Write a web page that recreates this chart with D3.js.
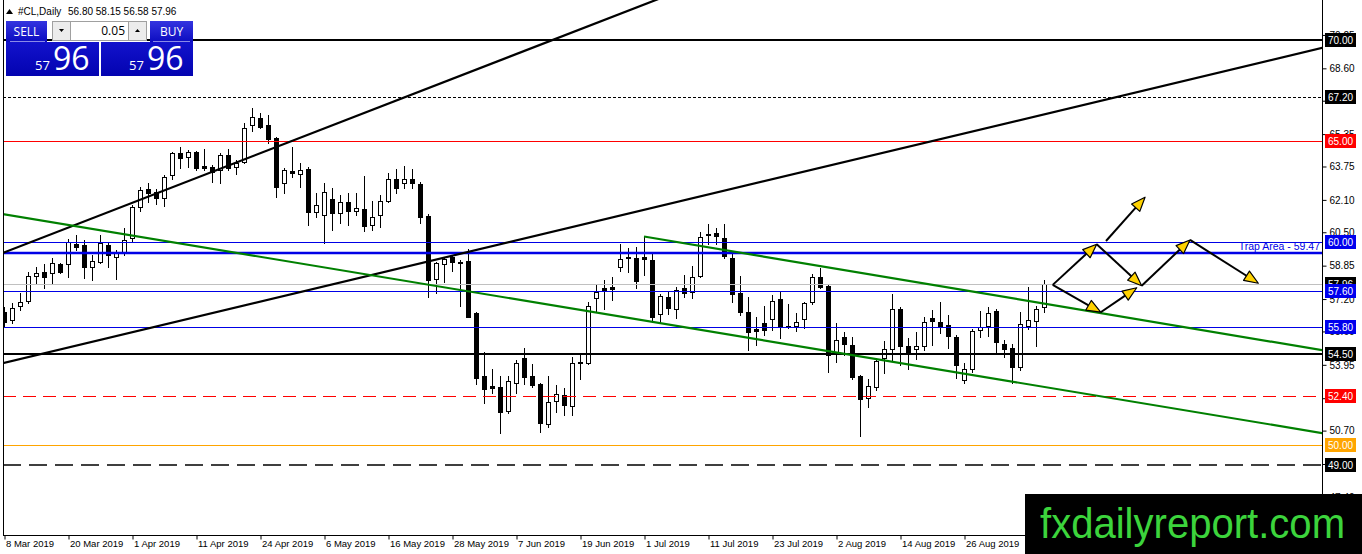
<!DOCTYPE html>
<html>
<head>
<meta charset="utf-8">
<script src="https://cdn.jsdelivr.net/npm/d3@7"></script>
<style>
  body { margin: 0; background: #fff; }
  svg { display: block; font-family: "Liberation Sans", Arial, sans-serif; }
</style>
</head>
<body>
<div id="chart"></div>
<script>
// daily bars, 8 Mar 2019 .. early Sep 2019
const opens = [56.55,56.17,56.86,57.12,58.36,58.52,58.47,58.92,58.92,59.92,59.86,58.80,59.05,59.86,59.26,59.46,60.20,61.76,62.62,62.48,
  62.18,63.33,64.43,64.20,64.45,63.77,63.74,63.58,64.32,63.71,63.99,65.80,66.13,65.80,65.14,62.92,63.54,63.38,63.63,61.52,
  61.35,62.14,61.44,61.98,61.57,61.63,60.86,61.35,62.06,63.12,62.92,63.12,62.89,61.30,58.19,58.92,59.26,59.02,59.08,56.50,
  53.40,52.90,52.87,51.69,53.07,54.27,53.40,53.00,51.03,52.18,52.46,51.92,54.06,54.06,57.24,57.73,57.78,58.80,59.21,59.21,
  59.26,59.13,56.45,57.32,56.69,57.73,57.53,58.34,60.37,60.45,60.20,59.24,57.49,56.55,55.72,56.00,56.20,57.19,55.84,55.89,
  56.20,57.04,58.28,57.85,54.57,55.34,54.93,53.40,52.30,52.84,54.27,54.72,56.69,54.88,54.72,54.88,56.25,56.05,55.92,55.31,
  53.20,53.73,55.67,55.87,56.61,54.98,54.77,53.86,55.87,56.13,56.80];
const highs = [56.80,56.99,57.49,58.55,58.80,58.93,59.21,58.97,60.15,60.37,60.12,59.38,60.37,59.96,59.62,60.70,61.85,62.75,62.95,62.62,
  63.35,64.48,64.73,64.57,64.50,64.60,63.82,64.40,64.60,64.07,65.88,66.63,66.38,66.29,65.22,63.66,64.70,63.91,63.70,62.43,
  62.92,62.67,62.34,62.43,62.46,63.28,62.06,62.34,63.44,63.61,63.77,63.61,63.00,61.40,59.05,59.30,59.38,59.12,59.66,56.58,
  54.60,53.73,53.40,53.40,54.19,54.80,53.99,53.05,53.40,52.95,52.79,54.35,54.44,57.07,57.90,58.14,58.31,59.92,59.71,59.76,
  60.28,59.46,57.45,57.57,57.82,58.39,58.85,60.53,60.89,60.70,60.89,59.54,58.34,57.32,56.30,56.87,57.40,57.57,56.94,56.50,
  57.04,58.42,58.72,57.93,56.00,55.56,55.34,53.45,53.24,54.27,55.14,57.45,56.82,55.26,55.59,56.33,56.66,57.07,56.41,55.43,
  54.03,55.71,56.63,56.79,56.69,55.18,54.98,56.58,57.78,56.86,58.15];
const lows = [55.85,56.00,56.66,56.99,57.94,57.73,58.01,58.50,58.28,59.62,58.23,58.14,59.00,58.77,58.18,59.38,60.08,61.57,62.01,61.90,
  61.80,63.12,63.66,63.74,63.58,63.58,63.00,62.95,63.58,63.38,63.94,65.52,65.64,64.90,62.26,62.43,63.25,62.72,60.86,61.27,
  59.96,60.61,60.94,60.86,61.35,60.58,60.61,60.78,62.01,62.43,62.67,62.67,60.97,57.32,57.49,58.06,58.60,56.84,56.30,53.00,
  52.08,52.54,50.57,51.56,52.57,53.00,52.87,50.65,50.86,51.64,51.47,51.47,53.24,54.00,56.63,56.69,57.15,58.60,58.55,57.73,
  58.39,56.08,56.03,56.46,56.25,57.29,57.27,58.28,59.91,59.91,59.21,57.04,56.41,54.68,54.93,55.42,55.67,55.29,55.76,55.62,
  55.76,56.94,57.76,53.58,54.11,54.44,53.25,50.45,51.88,52.71,53.53,54.19,53.94,53.73,54.22,54.68,54.93,55.51,54.77,53.29,
  53.07,53.61,55.31,55.38,54.55,54.32,53.04,53.70,55.71,54.88,56.58];
const closes = [56.05,56.74,57.04,58.34,58.47,58.31,58.97,58.55,60.03,59.79,58.80,59.10,59.98,59.38,59.46,60.12,61.76,62.59,62.46,62.18,
  63.22,64.40,64.16,64.45,63.66,63.69,63.49,64.32,63.66,63.91,65.64,66.18,65.72,65.09,62.75,63.58,63.41,63.58,61.52,61.85,
  62.48,61.44,61.98,61.57,61.68,60.81,61.27,62.06,63.12,62.67,63.12,62.95,61.27,58.14,58.97,59.16,59.02,58.98,56.33,53.29,
  52.74,52.80,51.64,53.17,54.03,53.37,52.95,51.06,52.13,52.51,51.97,54.03,54.11,56.86,57.57,57.65,57.71,59.16,59.26,58.11,
  59.16,56.33,57.35,56.74,57.65,57.51,58.28,60.25,60.40,60.33,59.34,57.44,56.55,55.59,55.64,55.67,57.12,55.84,55.89,56.08,
  56.99,58.31,57.81,54.44,55.18,54.96,53.37,52.25,52.90,54.16,54.72,56.69,54.88,54.55,54.88,56.08,56.13,55.81,55.38,53.94,
  53.73,55.64,55.84,56.53,55.09,54.72,53.86,55.97,56.17,56.69,57.96];

// one time label every 8 bars
const dateLabels = ['8 Mar 2019','20 Mar 2019','1 Apr 2019','11 Apr 2019','24 Apr 2019','6 May 2019','16 May 2019',
  '28 May 2019','7 Jun 2019','19 Jun 2019','1 Jul 2019','11 Jul 2019','23 Jul 2019','2 Aug 2019','14 Aug 2019','26 Aug 2019'];
const priceTicks = [70.25,68.60,67.00,65.35,63.75,62.10,60.50,58.85,57.20,55.60,53.95,52.30,50.70,49.05,47.40];

// horizontal levels drawn on the chart
const levelPrices = [70.00,67.20,65.00,60.00,59.47,57.96,57.60,55.80,54.50,52.40,50.00,49.00];
const trapLabel = 'Trap Area - 59.47';

// trend lines as [bar, price] anchors
const blackLow = [[0,54.05],[160,69.16]];
const blackHigh = [[0,59.50],[80,71.75]];
const greenLow = [[0,61.39],[160,50.89]];
const greenHigh = [[80,60.29],[160,54.99]];

// projected path arrows, [bar, price] from -> to
const arrows = [
  [[131.09,57.90],[136.59,59.91]],
  [[137.75,60.07],[142.63,62.23]],
  [[136.59,59.91],[142.21,57.86]],
  [[142.21,57.86],[148.25,60.12]],
  [[148.25,60.12],[156.79,57.98]],
  [[131.09,57.90],[137.09,56.55]],
  [[137.09,56.55],[141.59,57.76]]
];

const header = ['#CL,Daily', '56.80 58.15 56.58 57.96'];

const W = 1362, H = 554;
const plot = { left: 3, right: 1322, top: 0, bottom: 535 };

const svg = d3.select('#chart').append('svg').attr('width', W).attr('height', H);

const x = d3.scaleLinear().domain([0, 1]).range([4, 12]);
const y = d3.scaleLinear().domain([49, 70]).range([465, 40]);

const defs = svg.append('defs');
defs.append('clipPath').attr('id', 'plot-clip').append('rect')
  .attr('x', plot.left + 0.5).attr('y', plot.top)
  .attr('width', plot.right - plot.left - 0.5).attr('height', plot.bottom - plot.top);

const blueGrad = defs.append('linearGradient').attr('id', 'btn').attr('x1', 0).attr('x2', 0).attr('y1', 0).attr('y2', 1);
blueGrad.append('stop').attr('offset', '0%').attr('stop-color', '#3434e0');
blueGrad.append('stop').attr('offset', '100%').attr('stop-color', '#0c0cc0');
const panelGrad = defs.append('linearGradient').attr('id', 'panel').attr('x1', 0).attr('x2', 0).attr('y1', 0).attr('y2', 1);
panelGrad.append('stop').attr('offset', '0%').attr('stop-color', '#1212cc');
panelGrad.append('stop').attr('offset', '100%').attr('stop-color', '#0303b0');

const plotG = svg.append('g').attr('clip-path', 'url(#plot-clip)');

// candles
const bars = d3.range(opens.length);
const cx = i => Math.round(x(i));
plotG.append('g').selectAll('line').data(bars).join('line')
  .attr('x1', i => cx(i) + 0.5).attr('x2', i => cx(i) + 0.5)
  .attr('y1', i => Math.round(y(highs[i]))).attr('y2', i => Math.round(y(lows[i])) + 1)
  .attr('stroke', '#000').attr('stroke-width', 1);
plotG.append('g').selectAll('rect').data(bars).join('rect')
  .attr('x', i => cx(i) - 1.5)
  .attr('y', i => Math.round(y(Math.max(opens[i], closes[i]))) + 0.5)
  .attr('width', 4)
  .attr('height', i => Math.max(1, Math.round(y(Math.min(opens[i], closes[i]))) - Math.round(y(Math.max(opens[i], closes[i])))))
  .attr('fill', i => closes[i] > opens[i] ? '#fff' : '#000')
  .attr('stroke', '#000').attr('stroke-width', 1);

// level styles: stroke, width, dash, label background
const levelLook = {
  70: ['#000', 2, null, '#000'],
  67.2: ['#000', 1, '3,2', '#000'],
  65: ['#ff0000', 1, null, '#ff0000'],
  60: ['#0000e6', 1, null, '#0000ee'],
  59.47: ['#0000e6', 2.5, null, null],
  57.96: ['#c0c0c0', 1, null, '#000'],
  57.6: ['#0000e6', 1, null, '#0000ee'],
  55.8: ['#0000e6', 1, null, '#0000ee'],
  54.5: ['#000', 2, null, '#000'],
  52.4: ['#ff0000', 1, '13,7', '#ff0000'],
  50: ['#ffa500', 1, null, '#ffa500'],
  49: ['#000', 1.5, '18,8', '#000']
};
const lvY = v => levelLook[v][1] % 2 === 1 ? Math.round(y(v)) + 0.5 : Math.round(y(v));

plotG.append('g').selectAll('line').data(levelPrices).join('line')
  .attr('x1', plot.left).attr('x2', plot.right)
  .attr('y1', lvY).attr('y2', lvY)
  .attr('stroke', v => levelLook[v][0])
  .attr('stroke-width', v => levelLook[v][1])
  .attr('stroke-dasharray', v => levelLook[v][2]);

svg.append('text')
  .attr('x', plot.right - 2).attr('y', y(59.47) - 3)
  .attr('text-anchor', 'end').attr('font-size', 10.5).attr('fill', '#0000e6')
  .text(trapLabel);

// trend lines, extended across the chart (clipped)
function extend(pts, from, to) {
  const [[b1, p1], [b2, p2]] = pts;
  const k = (p2 - p1) / (b2 - b1);
  return [[from, p1 + k * (from - b1)], [to, p1 + k * (to - b1)]];
}
const trendLines = [
  { pts: extend(blackLow, -2, 170), c: '#000' },
  { pts: extend(blackHigh, -2, 170), c: '#000' },
  { pts: extend(greenLow, -2, 170), c: '#008000' },
  { pts: extend(greenHigh, greenHigh[0][0], 170), c: '#008000' }
];
const lineGen = d3.line().x(d => x(d[0])).y(d => y(d[1]));
plotG.append('g').selectAll('path').data(trendLines).join('path')
  .attr('d', d => lineGen(d.pts))
  .attr('fill', 'none').attr('stroke', d => d.c).attr('stroke-width', 2.2);

// arrows
const arrowG = plotG.append('g');
arrows.forEach(([a, b]) => {
  const x1 = x(a[0]), y1 = y(a[1]), x2 = x(b[0]), y2 = y(b[1]);
  const ang = Math.atan2(y2 - y1, x2 - x1);
  const len = 14, hw = 5.5;
  const bx = x2 - len * Math.cos(ang), by = y2 - len * Math.sin(ang);
  arrowG.append('line')
    .attr('x1', x1).attr('y1', y1).attr('x2', bx).attr('y2', by)
    .attr('stroke', '#000').attr('stroke-width', 2);
  const px = -Math.sin(ang), py = Math.cos(ang);
  arrowG.append('path')
    .attr('d', `M${x2},${y2}L${bx + px * hw},${by + py * hw}L${bx - px * hw},${by - py * hw}Z`)
    .attr('fill', '#ffd200').attr('stroke', '#000').attr('stroke-width', 1.2)
    .attr('stroke-linejoin', 'round');
});

// frame
svg.append('line').attr('x1', plot.left + 0.5).attr('x2', plot.left + 0.5)
  .attr('y1', plot.top).attr('y2', plot.bottom).attr('stroke', '#000');
svg.append('line').attr('x1', plot.left).attr('x2', plot.right)
  .attr('y1', plot.bottom + 0.5).attr('y2', plot.bottom + 0.5).attr('stroke', '#000');
svg.append('line').attr('x1', plot.right + 0.5).attr('x2', plot.right + 0.5)
  .attr('y1', plot.top).attr('y2', plot.bottom + 1).attr('stroke', '#000');

// price axis
const yAxis = d3.axisRight(y).tickValues(priceTicks).tickSize(4).tickPadding(3)
  .tickFormat(d3.format('.2f'));
const yAxisG = svg.append('g').attr('transform', `translate(${plot.right + 0.5},0)`).call(yAxis);
yAxisG.select('.domain').remove();
yAxisG.selectAll('line').attr('stroke', '#000');
yAxisG.selectAll('text').attr('font-size', 10).attr('fill', '#000')
  .attr('font-family', '"Liberation Sans", Arial, sans-serif');

// level labels on the axis
const tagG = svg.append('g');
levelPrices.filter(v => levelLook[v][3]).forEach(v => {
  const yy = Math.round(y(v));
  tagG.append('rect').attr('x', plot.right + 3).attr('y', yy - 7)
    .attr('width', 31).attr('height', 14).attr('fill', levelLook[v][3]);
  tagG.append('text').attr('x', plot.right + 6).attr('y', yy).attr('dy', '0.35em')
    .attr('font-size', 10).attr('fill', '#fff').text(d3.format('.2f')(v));
});

// time axis
const xAxis = d3.axisBottom(x).tickValues(dateLabels.map((d, i) => i * 8))
  .tickSize(4).tickFormat((d, i) => dateLabels[i]);
const xAxisG = svg.append('g').attr('transform', `translate(0.5,${plot.bottom + 0.5})`).call(xAxis);
xAxisG.select('.domain').remove();
xAxisG.selectAll('line').attr('stroke', '#000');
xAxisG.selectAll('text').attr('text-anchor', 'start').attr('x', 1).attr('y', 5)
  .attr('font-size', 9.5).attr('fill', '#000')
  .attr('font-family', '"Liberation Sans", Arial, sans-serif');

// header
svg.append('path').attr('d', 'M6,14L9.5,9L13,14Z').attr('fill', '#000');
svg.append('text').attr('x', 18).attr('y', 15).attr('font-size', 10).text(header[0]);
svg.append('text').attr('x', 68).attr('y', 15).attr('font-size', 10).text(header[1]);

// one-click trading panel
const tp = svg.append('g').attr('font-family', '"Open Sans", "DejaVu Sans", sans-serif');
tp.append('rect').attr('x', 6).attr('y', 21).attr('width', 41).attr('height', 21).attr('fill', 'url(#btn)');
tp.append('rect').attr('x', 150).attr('y', 21).attr('width', 43).attr('height', 21).attr('fill', 'url(#btn)');
tp.append('text').attr('x', 26.5).attr('y', 35.5).attr('text-anchor', 'middle').attr('font-size', 12).attr('fill', '#fff').text('SELL');
tp.append('text').attr('x', 171.5).attr('y', 35.5).attr('text-anchor', 'middle').attr('font-size', 12).attr('fill', '#fff').text('BUY');
tp.append('rect').attr('x', 52.5).attr('y', 21.5).attr('width', 18).attr('height', 19).attr('fill', '#ececec').attr('stroke', '#a0a0a0');
tp.append('rect').attr('x', 70.5).attr('y', 21.5).attr('width', 58).attr('height', 19).attr('fill', '#fff').attr('stroke', '#a0a0a0');
tp.append('rect').attr('x', 128.5).attr('y', 21.5).attr('width', 18).attr('height', 19).attr('fill', '#ececec').attr('stroke', '#a0a0a0');
tp.append('path').attr('d', 'M59,29L64,29L61.5,32Z').attr('fill', '#000');
tp.append('path').attr('d', 'M135,32L140,32L137.5,29Z').attr('fill', '#000');
tp.append('text').attr('x', 125).attr('y', 35).attr('text-anchor', 'end').attr('font-size', 12).attr('fill', '#000').text('0.05');
tp.append('rect').attr('x', 6).attr('y', 42).attr('width', 93).attr('height', 34).attr('fill', 'url(#panel)');
tp.append('rect').attr('x', 101).attr('y', 42).attr('width', 92).attr('height', 34).attr('fill', 'url(#panel)');
tp.append('line').attr('x1', 10).attr('x2', 45).attr('y1', 41.5).attr('y2', 41.5).attr('stroke', '#8a8ae8');
tp.append('line').attr('x1', 153).attr('x2', 190).attr('y1', 41.5).attr('y2', 41.5).attr('stroke', '#8a8ae8');
[[35, 53], [129, 147]].forEach(([a, b]) => {
  tp.append('text').attr('x', a).attr('y', 70).attr('font-size', 13).attr('fill', '#fff').text('57');
  tp.append('text').attr('x', b).attr('y', 70).attr('font-size', 32).attr('fill', '#fff').text('96');
});

// watermark
svg.append('rect').attr('x', 1025).attr('y', 494).attr('width', W - 1025).attr('height', H - 494).attr('fill', '#000');
svg.append('text').attr('x', 1040).attr('y', 538).attr('font-size', 42)
  .attr('textLength', 305).attr('lengthAdjust', 'spacingAndGlyphs')
  .attr('fill', '#3cd43c').text('fxdailyreport.com');
</script>
</body>
</html>
